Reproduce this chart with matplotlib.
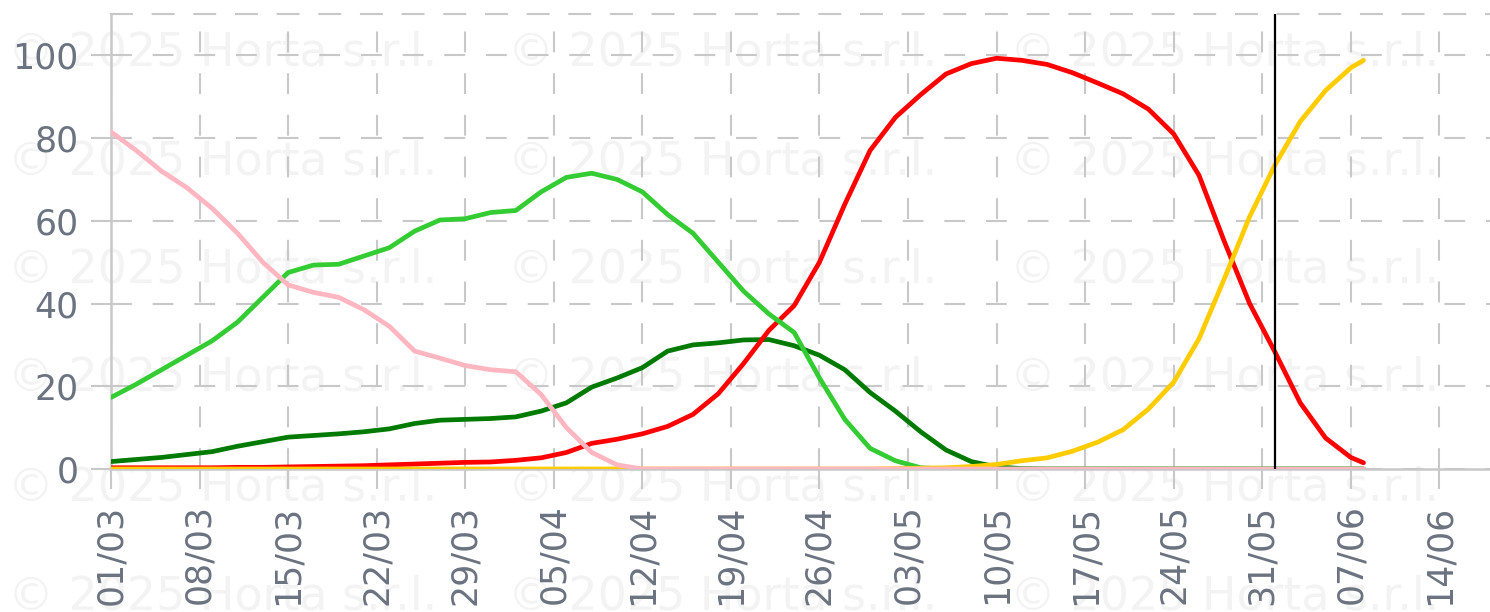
import matplotlib
matplotlib.use("Agg")
import matplotlib.pyplot as plt

# ---- data (x = days since 01/03) ----
days = list(range(0, 100, 2)) + [99]

pink = [81.5, 77, 72, 68, 63, 57, 50, 44.5, 42.7, 41.5, 38.5, 34.5, 28.5, 26.8, 25, 24,
        23.5, 18, 10, 4, 1, 0, 0, 0, 0, 0, 0, 0, 0, 0, 0, 0, 0, 0, 0, 0, 0, 0, 0, 0,
        0, 0, 0, 0, 0, 0, 0, 0, 0, 0, 0]

light_green = [17.3, 20.5, 24, 27.5, 31, 35.5, 41.5, 47.5, 49.3, 49.5, 51.5, 53.5, 57.5,
               60.2, 60.5, 62, 62.5, 67, 70.5, 71.5, 70, 67, 61.5, 57, 50, 43, 37.5, 33,
               22, 12, 5, 2, 0.3, 0, 0, 0, 0, 0, 0, 0, 0, 0, 0, 0, 0, 0, 0, 0, 0, 0, 0]

dark_green = [1.8, 2.3, 2.8, 3.5, 4.2, 5.5, 6.6, 7.7, 8.1, 8.5, 9, 9.7, 11, 11.8, 12, 12.2,
              12.6, 14, 16, 19.8, 22, 24.5, 28.5, 30, 30.5, 31.2, 31.3, 29.8, 27.5, 24,
              18.5, 14, 9, 4.6, 1.8, 0.5, 0.1, 0, 0, 0, 0, 0, 0, 0, 0, 0, 0, 0, 0, 0, 0]

red = [0.3, 0.3, 0.3, 0.3, 0.3, 0.4, 0.4, 0.5, 0.6, 0.7, 0.8, 1, 1.2, 1.4, 1.6, 1.7, 2.1,
       2.7, 4, 6.2, 7.2, 8.5, 10.3, 13.2, 18.2, 25.5, 33.5, 39.5, 50, 64, 77, 85, 90.5,
       95.5, 98, 99.3, 98.8, 97.8, 95.8, 93.3, 90.7, 87, 81, 71, 55, 40, 28.3, 16,
       7.5, 2.8, 1.5]

yellow = [0, 0, 0, 0, 0, 0, 0, 0, 0, 0, 0, 0, 0, 0, 0, 0, 0, 0, 0, 0, 0, 0, 0, 0, 0, 0, 0,
          0, 0, 0, 0, 0.1, 0.2, 0.3, 0.6, 1.1, 2, 2.7, 4.3, 6.5, 9.5, 14.5, 21, 31.5, 46,
          61, 73.5, 84, 91.5, 97, 98.8]

tick_labels = ["01/03", "08/03", "15/03", "22/03", "29/03", "05/04", "12/04", "19/04",
               "26/04", "03/05", "10/05", "17/05", "24/05", "31/05", "07/06", "14/06"]
y_ticks = [0, 20, 40, 60, 80, 100]
marker_day = 92  # 01/06
watermark = "\u00a9 2025 Horta s.r.l."

# ---- figure ----
W, H = 1490, 612
fig = plt.figure(figsize=(W / 100, H / 100), dpi=100)
fig.patch.set_facecolor("white")

# watermark behind everything
for yc in [53, 162, 270, 378, 488, 597]:
    for xs in [8, 508, 1010]:
        fig.text(xs / W, 1 - yc / H, watermark, fontsize=33, color="#f3f3f3",
                 ha="left", va="center", zorder=-5)

ax = fig.add_axes([111 / W, 1 - 469 / H, (1490 - 111) / W, (469 - 14) / H])
ax.patch.set_alpha(0)

grid_col = "#c8c8c8"
label_col = "#6b7280"

ax.set_xlim(0, 109)
ax.set_ylim(0, 110)

xt = [7 * i for i in range(len(tick_labels))]
ax.set_xticks(xt)
ax.set_xticklabels(tick_labels, rotation=90, ha="center", va="top")
ax.set_yticks(y_ticks)
ax.set_yticklabels([str(v) for v in y_ticks])

ax.tick_params(axis="both", colors=grid_col, labelcolor=label_col, labelsize=25,
               width=1.5, length=14.5)
ax.tick_params(axis="x", pad=11)
ax.tick_params(axis="y", pad=9)

dash = (0, (10, 10))
ax.grid(True, color=grid_col, linestyle=dash, linewidth=1.5)
ax.set_axisbelow(True)

for s in ["left", "bottom"]:
    ax.spines[s].set_color(grid_col)
    ax.spines[s].set_linewidth(1.8)
ax.spines["right"].set_visible(False)
ax.spines["top"].set_color(grid_col)
ax.spines["top"].set_linestyle(dash)
ax.spines["top"].set_linewidth(1.5)

lw = 3.4
style = dict(lw=lw, solid_capstyle="round", solid_joinstyle="round")
ax.plot(days, dark_green, color="#007a00", zorder=3, **style)
ax.plot(days, red, color="#ff0000", zorder=4, **style)
ax.plot(days, light_green, color="#33cc33", zorder=5, **style)
ax.plot(days, yellow, color="#ffcc00", zorder=6, **style)
ax.plot(days, pink, color="#ffb6c1", zorder=7, **style)

ax.axvline(marker_day, color="black", lw=1.6, zorder=8)

fig.savefig("out.png", dpi=100)
